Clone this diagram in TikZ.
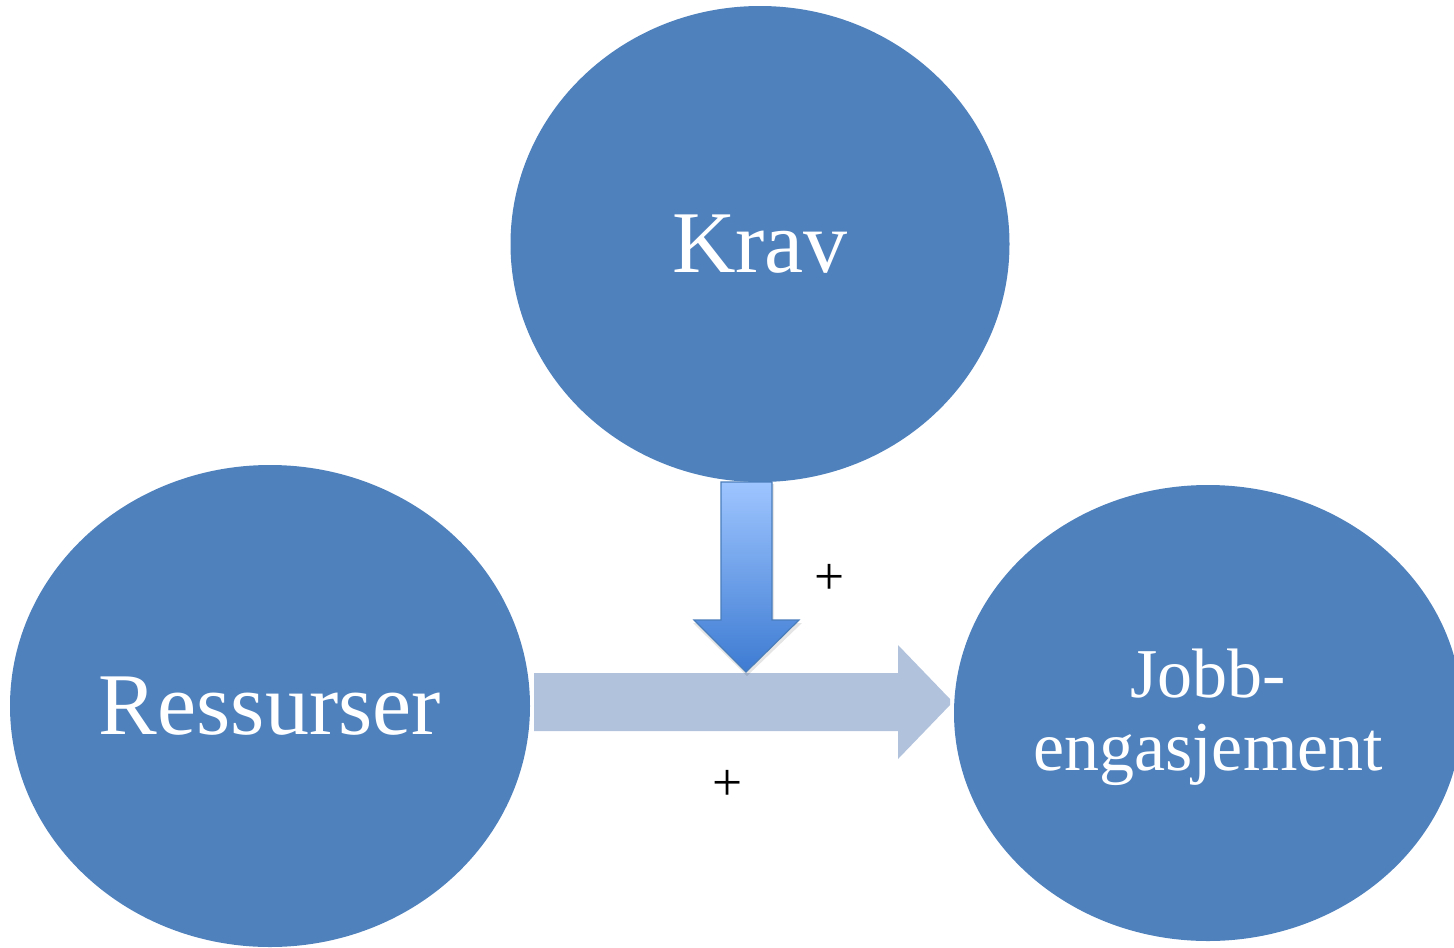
\documentclass[tikz,border=0pt]{standalone}
\usepackage{fontspec}
\setmainfont{Liberation Serif}
\usetikzlibrary{shapes.geometric}
\definecolor{circblue}{HTML}{4F81BD}
\definecolor{barblue}{HTML}{B1C2DD}
\definecolor{downtop}{HTML}{9EC5FF}
\definecolor{downbot}{HTML}{3D7BD2}
\definecolor{downedge}{HTML}{4A7EBB}
\tikzset{
  bubble/.style={ellipse, fill=circblue, draw=none, inner sep=0pt, text=white, align=center},
  plussign/.style={font=\fontsize{40}{44}\selectfont, inner sep=0pt, text=black}
}
\begin{document}
\begin{tikzpicture}[x=0.75pt,y=-0.75pt]
\useasboundingbox (0,0) rectangle (1454,947);
\clip (0,0) rectangle (1454,947);
\node[bubble, minimum width=374.25pt, minimum height=357pt, font=\fontsize{66}{70}\selectfont] (krav) at (760,244) {Krav};
\node[bubble, minimum width=390pt, minimum height=361.5pt, font=\fontsize{66}{70}\selectfont] (ress) at (270,706) {Ressurser};
\node[bubble, minimum width=381pt, minimum height=342pt] (jobb) at (1208,713) {};
\node[text=white, align=center, inner sep=0pt, font=\fontsize{52.5}{55}\selectfont] (jobbtext) at (1208,717) {Jobb-\\engasjement};
% horizontal block arrow
\fill[barblue] (534,673) -- (898,673) -- (898,645) -- (950,699) -- (950,705) -- (898,759) -- (898,731) -- (534,731) -- cycle;
% soft shadow of down arrow
\fill[black, opacity=0.10] (723,484) -- (774,484) -- (774,623) -- (802,623) -- (747,676) -- (693,623) -- (722,623) -- cycle;
% down block arrow
\shade[top color=downtop, bottom color=downbot, draw=downedge, line width=0.9pt]
  (721,482) -- (772,482) -- (772,620) -- (799,620) -- (746,672) -- (694,620) -- (721,620) -- cycle;
\node[plussign] (p1) at (830,579) {+};
\node[plussign] (p2) at (728,785) {+};
\end{tikzpicture}
\end{document}
